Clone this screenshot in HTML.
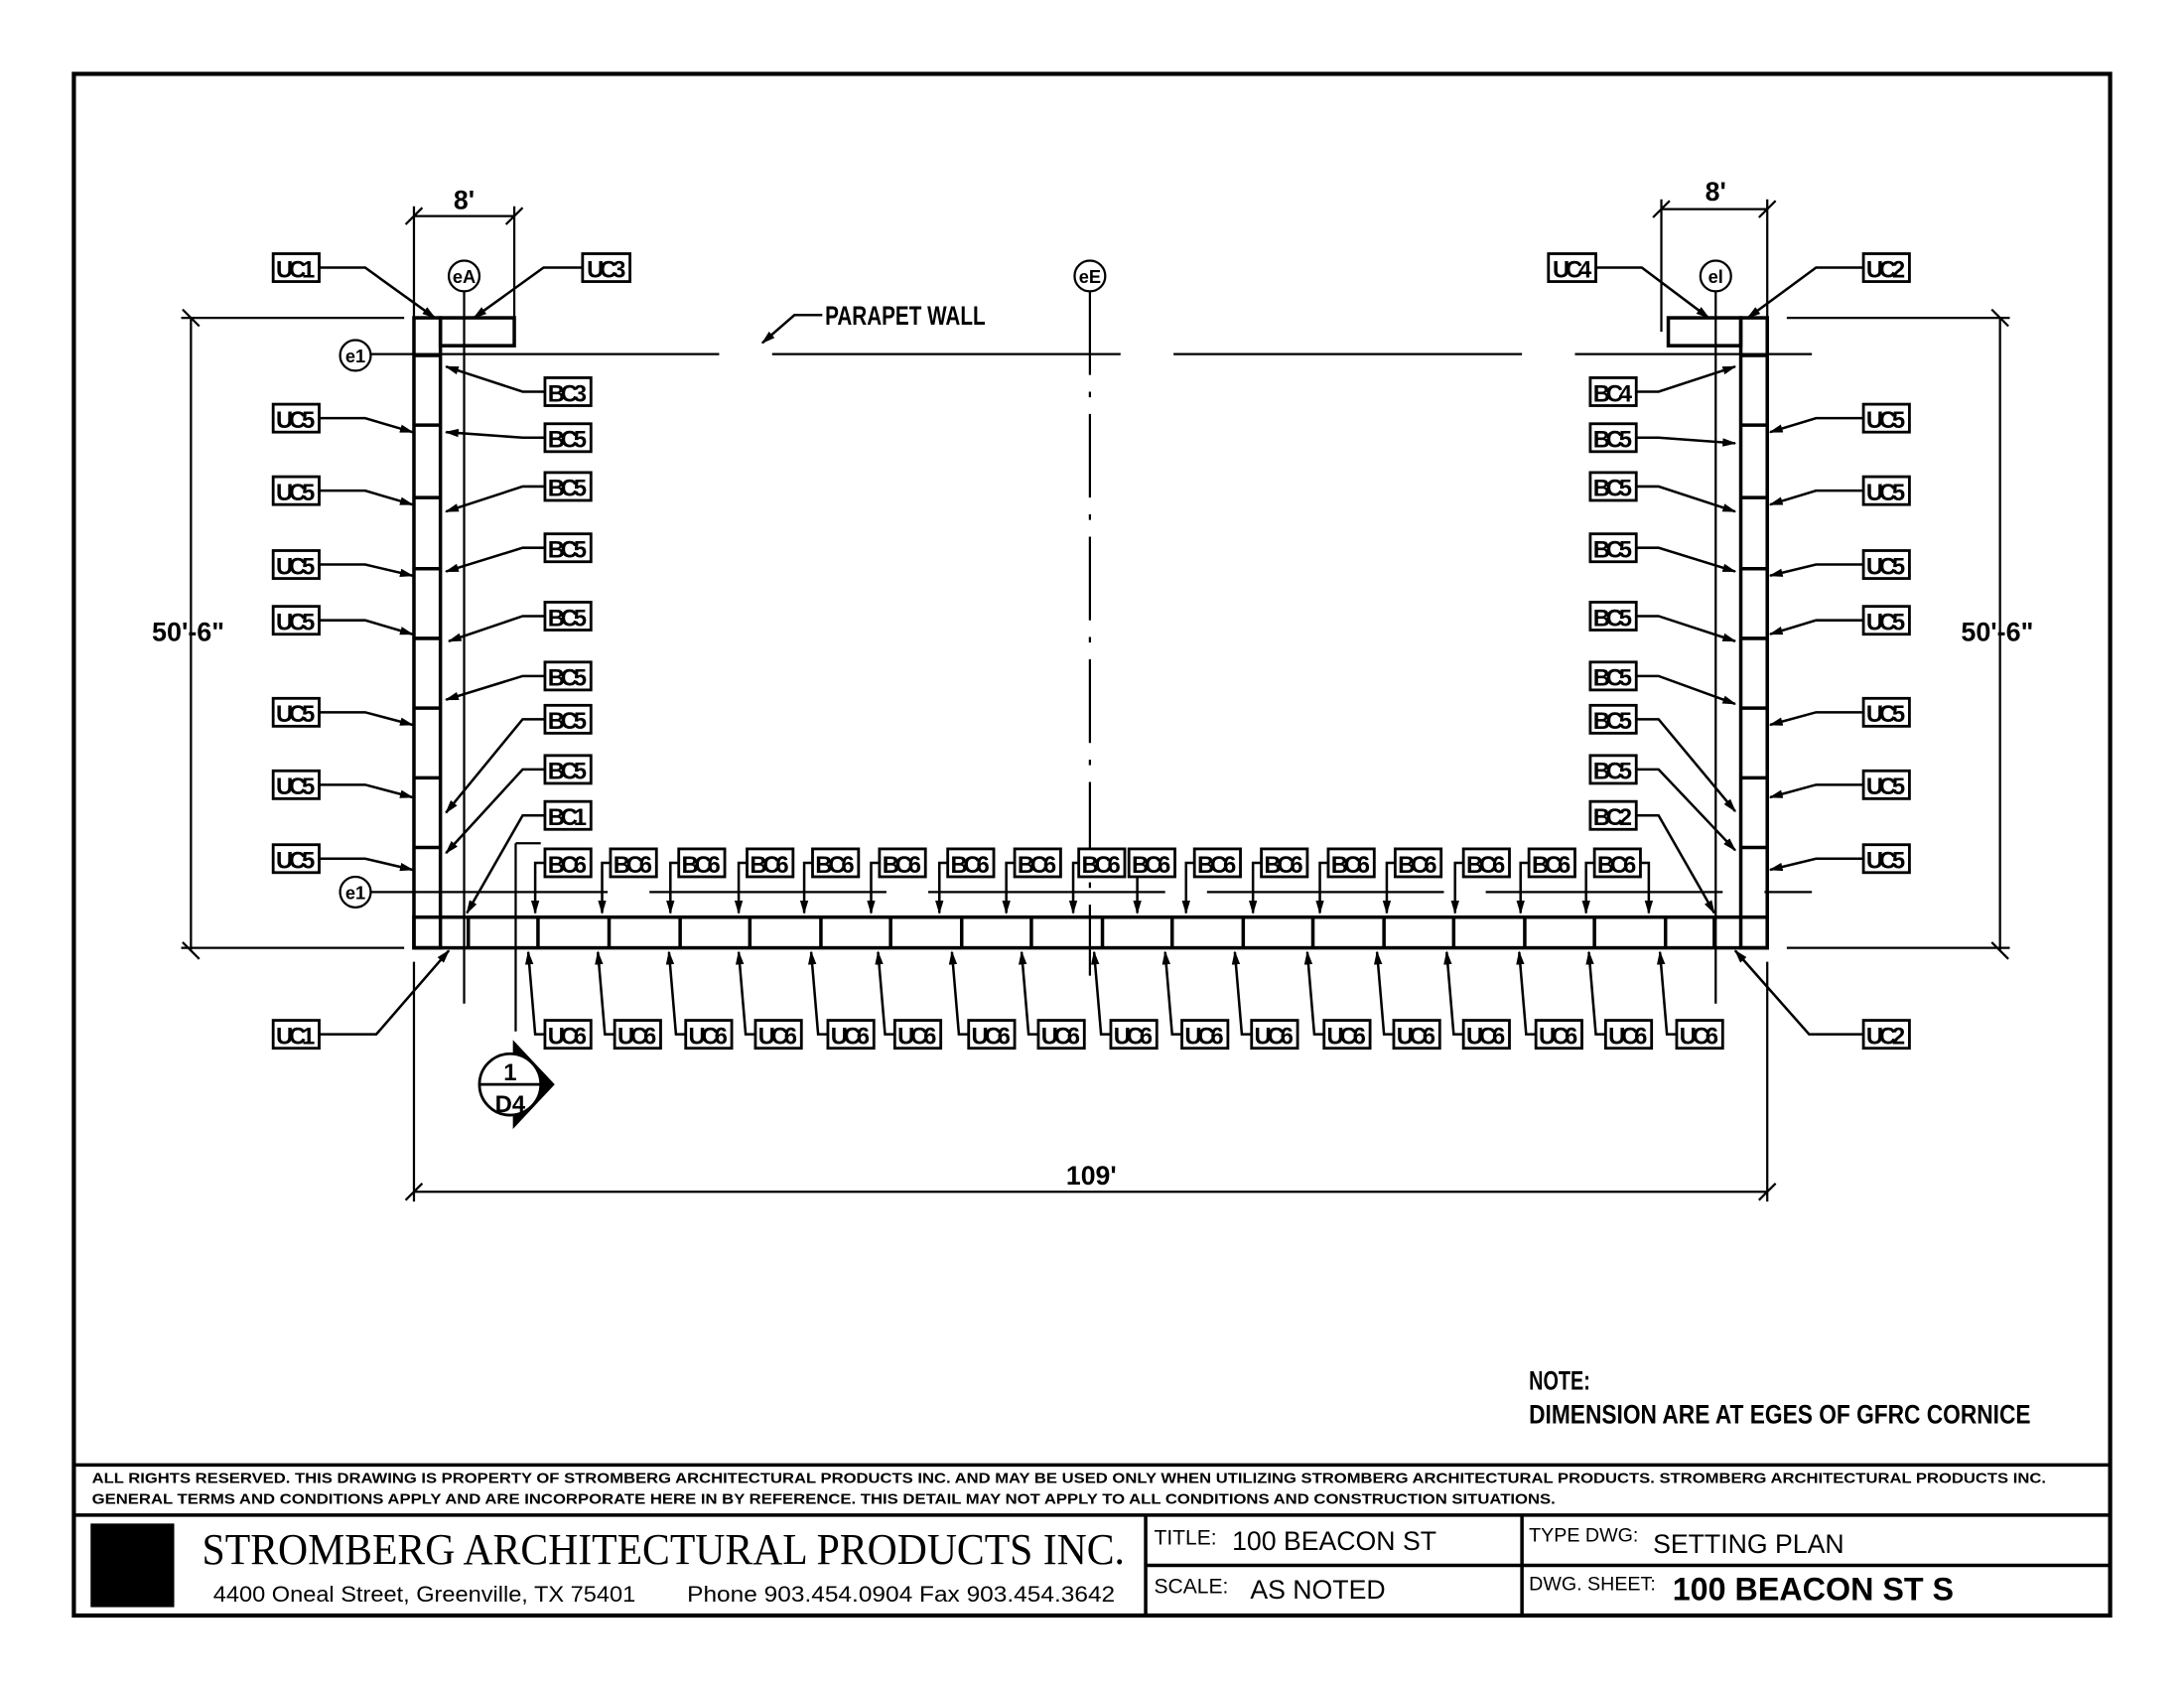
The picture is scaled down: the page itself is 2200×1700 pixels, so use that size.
<!DOCTYPE html>
<html><head><meta charset="utf-8"><style>
html,body{margin:0;padding:0;background:#fff;}
svg{display:block;}
text{font-family:"Liberation Sans",sans-serif;fill:#000;}
.l{font-size:17px;}
.l text{font-size:17px;}
.n{font-size:19px;}
</style></head><body>
<svg width="2200" height="1700" viewBox="0 0 1567 1211" preserveAspectRatio="none" xmlns="http://www.w3.org/2000/svg">
<defs>
<marker id="a" markerWidth="10" markerHeight="6" refX="9" refY="3" orient="auto" markerUnits="userSpaceOnUse"><path d="M0,0 L10,3 L0,6 z" fill="#000"/></marker>
</defs>
<rect x="0" y="0" width="1567" height="1211" fill="#fff"/>
<rect x="53" y="53" width="1461" height="1106" fill="none" stroke="#000" stroke-width="3"/>
<g stroke="#000" fill="none" stroke-width="2.5">
<rect x="297" y="228" width="19" height="452"/>
<rect x="1249" y="228" width="19" height="452"/>
<rect x="316" y="228" width="53" height="20"/>
<rect x="1197" y="228" width="52" height="20"/>
<rect x="297" y="658" width="971" height="22"/>
<path d="M297 255H316M297 305H316M297 357H316M297 408H316M297 458H316M297 508H316M297 558H316M297 608H316"/>
<path d="M1249 255H1268M1249 305H1268M1249 357H1268M1249 408H1268M1249 458H1268M1249 508H1268M1249 558H1268M1249 608H1268"/>
<path d="M336 658V680M386 658V680M437 658V680M488 658V680M538 658V680M589 658V680M639 658V680M690 658V680M740 658V680M791 658V680M841 658V680M892 658V680M942 658V680M993 658V680M1043 658V680M1094 658V680M1144 658V680M1195 658V680M1230 658V680"/>
</g>
<g stroke="#000" fill="none" stroke-width="1.6">
<path d="M333 209V720M1231 209V720"/>
<path d="M782 209V700" stroke-dasharray="60 12 4 12"/>
<path d="M266 254H1300" stroke-dasharray="250 38"/>
<path d="M266 640H1300" stroke-dasharray="170 30"/>
<circle cx="333" cy="198" r="11"/><circle cx="782" cy="198" r="11"/><circle cx="1231" cy="198" r="11"/>
<circle cx="255" cy="255" r="11"/><circle cx="255" cy="640" r="11"/>
<path d="M297 155H369M297 148V228M369 148V238M291 161L303 149M363 161L375 149"/>
<path d="M1192 150H1268M1192 143V238M1268 143V228M1186 156L1198 144M1262 156L1274 144"/>
<path d="M137 228V682M130 228H290M130 680H290M131 222L143 234M131 676L143 688"/>
<path d="M1435 228V682M1282 228H1442M1282 680H1442M1429 222L1441 234M1429 676L1441 688"/>
<path d="M297 690V862M1268 690V862M297 855H1268M291 861L303 849M1262 861L1274 849"/>
<path d="M370 605V740M370 605H388"/>
</g>
<g stroke="#000" fill="none" stroke-width="1.8" marker-end="url(#a)">
<path d="M229 192H262L312 228"/><path d="M418 192H390L340 228"/>
<path d="M1145 192H1178L1226 228"/><path d="M1337 192H1303L1254 228"/>
<path d="M229 742H270L322 682"/><path d="M1337 742H1298L1245 682"/>
<path d="M590 226H570L547 246"/>
<path d="M229 300H262L296 310"/><path d="M229 352H262L296 362"/><path d="M229 405H262L296 413"/><path d="M229 445H262L296 455"/><path d="M229 511H262L296 520"/><path d="M229 563H262L296 572"/><path d="M229 616H262L296 624"/>
<path d="M1337 300H1303L1270 310"/><path d="M1337 352H1303L1270 362"/><path d="M1337 405H1303L1270 413"/><path d="M1337 445H1303L1270 455"/><path d="M1337 511H1303L1270 520"/><path d="M1337 563H1303L1270 572"/><path d="M1337 616H1303L1270 624"/>
<path d="M391 281H375L320 263"/><path d="M391 314H375L320 310"/><path d="M391 349H375L320 367"/><path d="M391 393H375L320 410"/><path d="M391 442H375L322 460"/><path d="M391 485H375L320 502"/><path d="M391 516H375L320 583"/><path d="M391 552H375L320 612"/><path d="M391 585H375L335 655"/>
<path d="M1174 281H1190L1245 263"/><path d="M1174 314H1190L1245 318"/><path d="M1174 349H1190L1245 367"/><path d="M1174 393H1190L1245 410"/><path d="M1174 442H1190L1245 460"/><path d="M1174 485H1190L1245 505"/><path d="M1174 516H1190L1245 582"/><path d="M1174 552H1190L1245 610"/><path d="M1174 585H1190L1230 655"/>
<path d="M391 619H384V655"/><path d="M438 619H432V655"/><path d="M487 619H481V655"/><path d="M536 619H530V655"/><path d="M583 619H577V655"/><path d="M631 619H625V655"/><path d="M680 619H674V655"/><path d="M728 619H722V655"/><path d="M774 619H770V655"/><path d="M810 619H816V655"/><path d="M857 619H851V655"/><path d="M905 619H899V655"/><path d="M953 619H947V655"/><path d="M1001 619H995V655"/><path d="M1050 619H1044V655"/><path d="M1097 619H1091V655"/><path d="M1144 619H1138V655"/><path d="M1177 619H1183V655"/>
<path d="M391 742H384L379 683"/><path d="M441 742H434L429 683"/><path d="M492 742H485L480 683"/><path d="M542 742H535L530 683"/><path d="M594 742H587L582 683"/><path d="M642 742H635L630 683"/><path d="M695 742H688L683 683"/><path d="M745 742H738L733 683"/><path d="M797 742H790L785 683"/><path d="M848 742H841L836 683"/><path d="M898 742H891L886 683"/><path d="M950 742H943L938 683"/><path d="M1000 742H993L988 683"/><path d="M1050 742H1043L1038 683"/><path d="M1102 742H1095L1090 683"/><path d="M1152 742H1145L1140 683"/><path d="M1203 742H1196L1191 683"/>
</g>
<path d="M368 746L398 778L368 810z" fill="#000"/>
<circle cx="366" cy="778" r="22" fill="#fff" stroke="#000" stroke-width="2"/>
<path d="M344 778H388" stroke="#000" stroke-width="2"/>
<text x="366" y="775" font-size="17" font-weight="bold" text-anchor="middle">1</text>
<text x="366" y="798" font-size="17" font-weight="bold" text-anchor="middle">D4</text>
<g font-size="13" text-anchor="middle" font-weight="bold">
<text x="333" y="203">eA</text><text x="782" y="203">eE</text><text x="1231" y="203">el</text>
<text x="255" y="260">e1</text><text x="255" y="645">e1</text>
</g>
<g class="n" font-weight="bold">
<text x="333" y="150" text-anchor="middle">8'</text>
<text x="1231" y="144" text-anchor="middle">8'</text>
<text x="135" y="460" text-anchor="middle" textLength="52" lengthAdjust="spacingAndGlyphs">50'-6"</text>
<text x="1433" y="460" text-anchor="middle" textLength="52" lengthAdjust="spacingAndGlyphs">50'-6"</text>
<text x="783" y="850" text-anchor="middle">109'</text>
<text x="592" y="233" textLength="115" lengthAdjust="spacingAndGlyphs">PARAPET WALL</text>
<text x="1097" y="997" textLength="44" lengthAdjust="spacingAndGlyphs">NOTE:</text>
<text x="1097" y="1021" textLength="360" lengthAdjust="spacingAndGlyphs">DIMENSION ARE AT EGES OF GFRC CORNICE</text>
</g>
<g stroke="#000" stroke-width="2" fill="#fff">
<rect x="196" y="182" width="33" height="20"/><rect x="418" y="182" width="34" height="20"/><rect x="1111" y="182" width="34" height="20"/><rect x="1337" y="182" width="33" height="20"/>
<rect x="196" y="732" width="33" height="20"/><rect x="1337" y="732" width="33" height="20"/>
<rect x="196" y="290" width="33" height="20"/><rect x="196" y="342" width="33" height="20"/><rect x="196" y="395" width="33" height="20"/><rect x="196" y="435" width="33" height="20"/><rect x="196" y="501" width="33" height="20"/><rect x="196" y="553" width="33" height="20"/><rect x="196" y="606" width="33" height="20"/>
<rect x="1337" y="290" width="33" height="20"/><rect x="1337" y="342" width="33" height="20"/><rect x="1337" y="395" width="33" height="20"/><rect x="1337" y="435" width="33" height="20"/><rect x="1337" y="501" width="33" height="20"/><rect x="1337" y="553" width="33" height="20"/><rect x="1337" y="606" width="33" height="20"/>
<rect x="391" y="271" width="33" height="20"/><rect x="391" y="304" width="33" height="20"/><rect x="391" y="339" width="33" height="20"/><rect x="391" y="383" width="33" height="20"/><rect x="391" y="432" width="33" height="20"/><rect x="391" y="475" width="33" height="20"/><rect x="391" y="506" width="33" height="20"/><rect x="391" y="542" width="33" height="20"/><rect x="391" y="575" width="33" height="20"/>
<rect x="1141" y="271" width="33" height="20"/><rect x="1141" y="304" width="33" height="20"/><rect x="1141" y="339" width="33" height="20"/><rect x="1141" y="383" width="33" height="20"/><rect x="1141" y="432" width="33" height="20"/><rect x="1141" y="475" width="33" height="20"/><rect x="1141" y="506" width="33" height="20"/><rect x="1141" y="542" width="33" height="20"/><rect x="1141" y="575" width="33" height="20"/>
<rect x="391" y="609" width="33" height="20"/><rect x="438" y="609" width="33" height="20"/><rect x="487" y="609" width="33" height="20"/><rect x="536" y="609" width="33" height="20"/><rect x="583" y="609" width="33" height="20"/><rect x="631" y="609" width="33" height="20"/><rect x="680" y="609" width="33" height="20"/><rect x="728" y="609" width="33" height="20"/><rect x="774" y="609" width="33" height="20"/><rect x="810" y="609" width="33" height="20"/><rect x="857" y="609" width="33" height="20"/><rect x="905" y="609" width="33" height="20"/><rect x="953" y="609" width="33" height="20"/><rect x="1001" y="609" width="33" height="20"/><rect x="1050" y="609" width="33" height="20"/><rect x="1097" y="609" width="33" height="20"/><rect x="1144" y="609" width="33" height="20"/>
<rect x="391" y="732" width="33" height="20"/><rect x="441" y="732" width="33" height="20"/><rect x="492" y="732" width="33" height="20"/><rect x="542" y="732" width="33" height="20"/><rect x="594" y="732" width="33" height="20"/><rect x="642" y="732" width="33" height="20"/><rect x="695" y="732" width="33" height="20"/><rect x="745" y="732" width="33" height="20"/><rect x="797" y="732" width="33" height="20"/><rect x="848" y="732" width="33" height="20"/><rect x="898" y="732" width="33" height="20"/><rect x="950" y="732" width="33" height="20"/><rect x="1000" y="732" width="33" height="20"/><rect x="1050" y="732" width="33" height="20"/><rect x="1102" y="732" width="33" height="20"/><rect x="1152" y="732" width="33" height="20"/><rect x="1203" y="732" width="33" height="20"/>
</g>
<g class="l" text-anchor="middle" font-weight="bold" textLength="28" lengthAdjust="spacingAndGlyphs">
<text x="212" y="199" textLength="28">UC1</text><text x="435" y="199" textLength="28">UC3</text><text x="1128" y="199" textLength="28">UC4</text><text x="1353" y="199" textLength="28">UC2</text>
<text x="212" y="749" textLength="28">UC1</text><text x="1353" y="749" textLength="28">UC2</text>
<text x="212" y="307" textLength="28">UC5</text><text x="212" y="359" textLength="28">UC5</text><text x="212" y="412" textLength="28">UC5</text><text x="212" y="452" textLength="28">UC5</text><text x="212" y="518" textLength="28">UC5</text><text x="212" y="570" textLength="28">UC5</text><text x="212" y="623" textLength="28">UC5</text>
<text x="1353" y="307" textLength="28">UC5</text><text x="1353" y="359" textLength="28">UC5</text><text x="1353" y="412" textLength="28">UC5</text><text x="1353" y="452" textLength="28">UC5</text><text x="1353" y="518" textLength="28">UC5</text><text x="1353" y="570" textLength="28">UC5</text><text x="1353" y="623" textLength="28">UC5</text>
<text x="407" y="288" textLength="28">BC3</text><text x="407" y="321" textLength="28">BC5</text><text x="407" y="356" textLength="28">BC5</text><text x="407" y="400" textLength="28">BC5</text><text x="407" y="449" textLength="28">BC5</text><text x="407" y="492" textLength="28">BC5</text><text x="407" y="523" textLength="28">BC5</text><text x="407" y="559" textLength="28">BC5</text><text x="407" y="592" textLength="28">BC1</text>
<text x="1157" y="288" textLength="28">BC4</text><text x="1157" y="321" textLength="28">BC5</text><text x="1157" y="356" textLength="28">BC5</text><text x="1157" y="400" textLength="28">BC5</text><text x="1157" y="449" textLength="28">BC5</text><text x="1157" y="492" textLength="28">BC5</text><text x="1157" y="523" textLength="28">BC5</text><text x="1157" y="559" textLength="28">BC5</text><text x="1157" y="592" textLength="28">BC2</text>
<text x="407" y="626" textLength="28">BC6</text><text x="454" y="626" textLength="28">BC6</text><text x="503" y="626" textLength="28">BC6</text><text x="552" y="626" textLength="28">BC6</text><text x="599" y="626" textLength="28">BC6</text><text x="647" y="626" textLength="28">BC6</text><text x="696" y="626" textLength="28">BC6</text><text x="744" y="626" textLength="28">BC6</text><text x="790" y="626" textLength="28">BC6</text><text x="826" y="626" textLength="28">BC6</text><text x="873" y="626" textLength="28">BC6</text><text x="921" y="626" textLength="28">BC6</text><text x="969" y="626" textLength="28">BC6</text><text x="1017" y="626" textLength="28">BC6</text><text x="1066" y="626" textLength="28">BC6</text><text x="1113" y="626" textLength="28">BC6</text><text x="1160" y="626" textLength="28">BC6</text>
<text x="407" y="749" textLength="28">UC6</text><text x="457" y="749" textLength="28">UC6</text><text x="508" y="749" textLength="28">UC6</text><text x="558" y="749" textLength="28">UC6</text><text x="610" y="749" textLength="28">UC6</text><text x="658" y="749" textLength="28">UC6</text><text x="711" y="749" textLength="28">UC6</text><text x="761" y="749" textLength="28">UC6</text><text x="813" y="749" textLength="28">UC6</text><text x="864" y="749" textLength="28">UC6</text><text x="914" y="749" textLength="28">UC6</text><text x="966" y="749" textLength="28">UC6</text><text x="1016" y="749" textLength="28">UC6</text><text x="1066" y="749" textLength="28">UC6</text><text x="1118" y="749" textLength="28">UC6</text><text x="1168" y="749" textLength="28">UC6</text><text x="1219" y="749" textLength="28">UC6</text>
</g>
<g stroke="#000" stroke-width="2.5" fill="none">
<path d="M53 1051H1514M53 1087H1514M822 1087V1159M1092 1087V1159M822 1123H1514"/>
</g>
<text x="66" y="1064" font-size="10.5" font-weight="bold" textLength="1402" lengthAdjust="spacingAndGlyphs">ALL RIGHTS RESERVED. THIS DRAWING IS PROPERTY OF STROMBERG ARCHITECTURAL PRODUCTS INC. AND MAY BE USED ONLY WHEN UTILIZING STROMBERG ARCHITECTURAL PRODUCTS.  STROMBERG ARCHITECTURAL PRODUCTS INC.</text>
<text x="66" y="1079" font-size="10.5" font-weight="bold" textLength="1050" lengthAdjust="spacingAndGlyphs">GENERAL TERMS AND CONDITIONS APPLY AND ARE INCORPORATE HERE IN BY REFERENCE.  THIS DETAIL MAY NOT APPLY TO ALL CONDITIONS AND CONSTRUCTION SITUATIONS.</text>
<rect x="65" y="1093" width="60" height="60" fill="#000"/>
<text x="145" y="1122" font-size="32" textLength="662" lengthAdjust="spacingAndGlyphs" style="font-family:'Liberation Serif',serif">STROMBERG ARCHITECTURAL PRODUCTS INC.</text>
<text x="153" y="1149" font-size="16" textLength="303" lengthAdjust="spacingAndGlyphs">4400 Oneal Street, Greenville, TX  75401</text>
<text x="493" y="1149" font-size="16" textLength="307" lengthAdjust="spacingAndGlyphs">Phone 903.454.0904   Fax 903.454.3642</text>
<text x="828" y="1108" font-size="15">TITLE:</text>
<text x="884" y="1112" font-size="19">100 BEACON ST</text>
<text x="828" y="1143" font-size="15">SCALE:</text>
<text x="897" y="1147" font-size="19">AS NOTED</text>
<text x="1097" y="1106" font-size="14">TYPE DWG:</text>
<text x="1186" y="1114" font-size="19">SETTING PLAN</text>
<text x="1097" y="1141" font-size="14">DWG. SHEET:</text>
<text x="1200" y="1148" font-size="23" font-weight="bold">100 BEACON ST S</text>
</svg>
</body></html>
